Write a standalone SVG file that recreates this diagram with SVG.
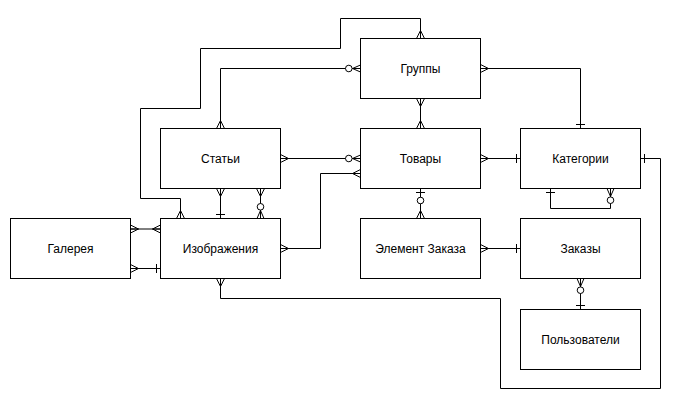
<svg xmlns="http://www.w3.org/2000/svg" xmlns:xlink="http://www.w3.org/1999/xlink" width="681" height="409" viewBox="0 0 681 409">
<style>
.box{fill:#fff;stroke:#000;stroke-width:1}
.lbl{font-family:"Liberation Sans",Arial,sans-serif;font-size:12px;fill:#000;text-anchor:middle;dominant-baseline:central}
.edge{fill:none;stroke:#000;stroke-width:1}
.m{fill:none;stroke:#000;stroke-width:1}
.c{fill:#fff;stroke:#000;stroke-width:1}
</style>
<defs>
<g id="crow" class="m"><path d="M8 0L0 -4M8 0L0 0M8 0L0 4"/></g>
<g id="bar" class="m"><path d="M4 -4.5V4.5"/></g>
<g id="zmany"><path class="m" d="M8 0L0 -3.5M8 0L0 0M8 0L0 3.5"/><circle class="c" cx="11.7" cy="0" r="3.3"/></g>
<g id="zone"><path class="m" d="M4 -4.5V4.5"/><circle class="c" cx="12" cy="0" r="3.3"/></g>
</defs>
<rect width="681" height="409" fill="#fff"/>
<g transform="translate(0.5,0.5)">
<g id="connectors">
<path class="edge" d="M420 38V18H340V48H200V108H140V198H180V218"/>
<path class="edge" d="M360 68H220V128"/>
<path class="edge" d="M420 98V128"/>
<path class="edge" d="M480 68H580V128"/>
<path class="edge" d="M280 158H360"/>
<path class="edge" d="M280 248H320V173H360"/>
<path class="edge" d="M480 158H520"/>
<path class="edge" d="M420 188V218"/>
<path class="edge" d="M480 248H520"/>
<path class="edge" d="M550 188V208H610V188"/>
<path class="edge" d="M580 278V309"/>
<path class="edge" d="M640 158H660V388H500V298H220V278"/>
<path class="edge" d="M220 188V218"/>
<path class="edge" d="M260 188V218"/>
<path class="edge" d="M130 228.5H160" stroke-width="1.2"/>
<path class="edge" d="M130 268H160"/>
<!-- end markers -->
<use xlink:href="#crow" transform="translate(420,38) rotate(-90)"/>
<use xlink:href="#crow" transform="translate(180,218) rotate(-90)"/>
<use xlink:href="#zmany" transform="translate(360,68) rotate(180)"/>
<use xlink:href="#crow" transform="translate(220,128) rotate(-90)"/>
<use xlink:href="#crow" transform="translate(420,98) rotate(90)"/>
<use xlink:href="#crow" transform="translate(420,128) rotate(-90)"/>
<use xlink:href="#crow" transform="translate(480,68)"/>
<use xlink:href="#bar" transform="translate(580,128) rotate(-90)"/>
<use xlink:href="#crow" transform="translate(280,158)"/>
<use xlink:href="#zmany" transform="translate(360,158) rotate(180)"/>
<use xlink:href="#crow" transform="translate(280,248)"/>
<use xlink:href="#crow" transform="translate(360,173) rotate(180)"/>
<use xlink:href="#crow" transform="translate(480,158)"/>
<use xlink:href="#bar" transform="translate(520,158) rotate(180)"/>
<use xlink:href="#zone" transform="translate(420,188) rotate(90)"/>
<use xlink:href="#crow" transform="translate(420,218) rotate(-90)"/>
<use xlink:href="#crow" transform="translate(480,248)"/>
<use xlink:href="#bar" transform="translate(520,248) rotate(180)"/>
<use xlink:href="#bar" transform="translate(550,188) rotate(90)"/>
<use xlink:href="#zmany" transform="translate(610,188) rotate(90)"/>
<use xlink:href="#zmany" transform="translate(580,278) rotate(90)"/>
<use xlink:href="#bar" transform="translate(580,309) rotate(-90)"/>
<use xlink:href="#bar" transform="translate(640,158)"/>
<use xlink:href="#crow" transform="translate(220,278) rotate(90)"/>
<use xlink:href="#crow" transform="translate(220,188) rotate(90)"/>
<use xlink:href="#bar" transform="translate(220,218) rotate(-90)"/>
<use xlink:href="#crow" transform="translate(260,188) rotate(90)"/>
<use xlink:href="#zmany" transform="translate(260,218) rotate(-90)"/>
<use xlink:href="#crow" transform="translate(130,228.5)"/>
<use xlink:href="#crow" transform="translate(160,228.5) rotate(180)"/>
<use xlink:href="#crow" transform="translate(130,268)"/>
<use xlink:href="#bar" transform="translate(160,268) rotate(180)"/>
</g>
<g id="groups"><rect class="box" x="360" y="38" width="120" height="60"/><text class="lbl" x="420" y="68">Группы</text></g>
<g id="articles"><rect class="box" x="160" y="128" width="120" height="60"/><text class="lbl" x="220" y="158">Статьи</text></g>
<g id="products"><rect class="box" x="360" y="128" width="120" height="60"/><text class="lbl" x="420" y="158">Товары</text></g>
<g id="categories"><rect class="box" x="520" y="128" width="120" height="60"/><text class="lbl" x="580" y="158">Категории</text></g>
<g id="gallery"><rect class="box" x="10" y="218" width="120" height="60"/><text class="lbl" x="70" y="248">Галерея</text></g>
<g id="images"><rect class="box" x="160" y="218" width="120" height="60"/><text class="lbl" x="220" y="248">Изображения</text></g>
<g id="orderitem"><rect class="box" x="360" y="218" width="120" height="60"/><text class="lbl" x="420" y="248">Элемент Заказа</text></g>
<g id="orders"><rect class="box" x="520" y="218" width="120" height="60"/><text class="lbl" x="580" y="248">Заказы</text></g>
<g id="users"><rect class="box" x="520" y="309" width="120" height="60"/><text class="lbl" x="580" y="339">Пользователи</text></g>
</g>
</svg>
